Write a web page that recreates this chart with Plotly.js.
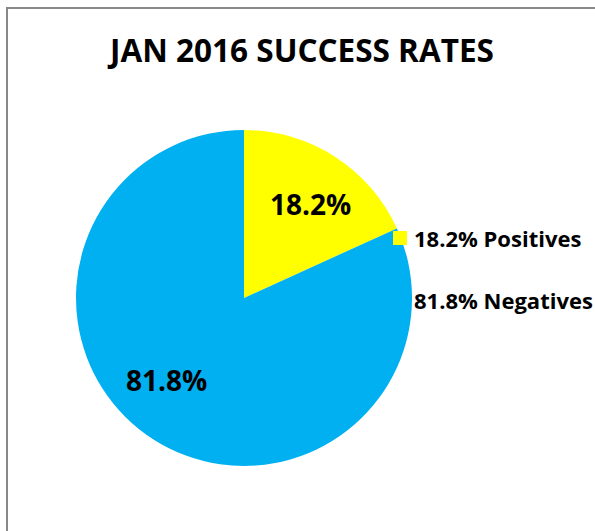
<!DOCTYPE html>
<html>
<head>
<meta charset="utf-8">
<script src="https://cdn.plot.ly/plotly-3.0.1.min.js"></script>
<style>html,body{margin:0;padding:0;background:#fff;}#chart{width:595px;height:531px;}</style>
</head>
<body>
<div id="chart"></div>
<script>
const chartTitle = 'JAN 2016 SUCCESS RATES';
const labels = ['Positives', 'Negatives'];
const values = [18.2, 81.8];
const colors = ['#FFFF00', '#00B0F0'];

const W = 595, H = 531;
const px = v => v / W;
const py = v => 1 - v / H;
const FONT = '"Open Sans", Lato, sans-serif';

const total = values.reduce((a, b) => a + b, 0);
const pct = values.map(v => (100 * v / total).toFixed(1) + '%');

// layout positions for in-slice labels and legend rows
const sliceLabelPos = [[310, 204], [166, 380]];
const legendRowY = [238, 300];

const annotations = [];
values.forEach((v, i) => {
  annotations.push({
    xref: 'paper', yref: 'paper', x: px(sliceLabelPos[i][0]), y: py(sliceLabelPos[i][1]),
    xanchor: 'center', yanchor: 'middle', showarrow: false,
    text: '<b>' + pct[i] + '</b>', font: {family: FONT, size: 28, color: '#000'}
  });
  annotations.push({
    xref: 'paper', yref: 'paper', x: px(412), y: py(legendRowY[i]),
    xanchor: 'left', yanchor: 'middle', showarrow: false,
    text: '<b>' + pct[i] + ' ' + labels[i] + '</b>', font: {family: FONT, size: 22, color: '#000'}
  });
  annotations.push({
    xref: 'paper', yref: 'paper', x: px(400), y: py(legendRowY[i]),
    xanchor: 'center', yanchor: 'middle', showarrow: false,
    text: ' ', width: 14, height: 14, bgcolor: colors[i], borderpad: 0, borderwidth: 0
  });
});

const data = [{
  type: 'pie',
  labels: labels,
  values: values,
  marker: {colors: colors, line: {width: 0}},
  sort: false,
  direction: 'clockwise',
  rotation: 0,
  textinfo: 'none',
  hoverinfo: 'label+percent',
  showlegend: false,
  domain: {x: [px(76), px(412)], y: [py(466), py(130)]}
}];

const layout = {
  width: W, height: H,
  margin: {l: 0, r: 0, t: 0, b: 0},
  paper_bgcolor: '#fff',
  showlegend: false,
  title: {
    text: '<b>' + chartTitle + '</b>',
    x: px(302), xanchor: 'center', xref: 'paper',
    y: py(51), yanchor: 'middle', yref: 'paper',
    font: {family: FONT, size: 31.5, color: '#000'}
  },
  annotations: annotations,
  shapes: [{
    type: 'rect', xref: 'paper', yref: 'paper',
    x0: px(7), x1: 1.05, y0: -0.05, y1: py(8),
    line: {color: '#888888', width: 2}, layer: 'below'
  }]
};

Plotly.newPlot('chart', data, layout, {displayModeBar: false, staticPlot: true});
</script>
</body>
</html>
